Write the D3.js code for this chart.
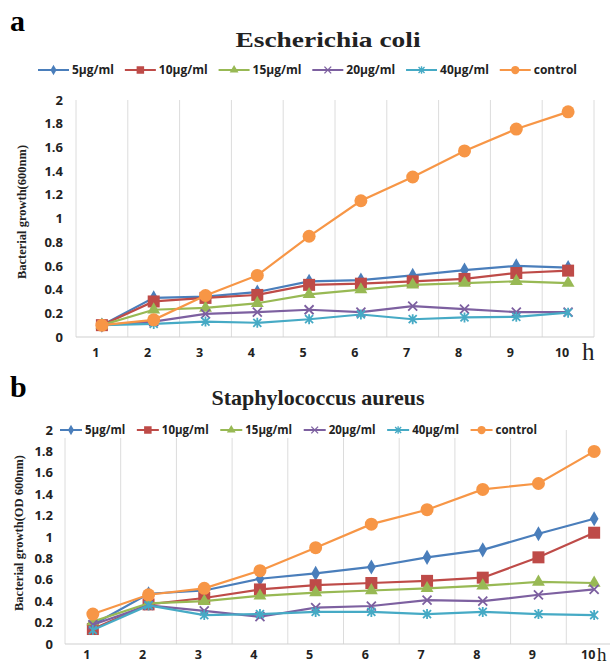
<!DOCTYPE html>
<html>
<head>
<meta charset="utf-8">
<script src="https://cdn.jsdelivr.net/npm/d3@7"></script>
<style>
body { margin: 0; background: #fff; }
</style>
</head>
<body>
<div id="chart"></div>
<script>
// hours on the x axis, OD readings on y
var hours = [1, 2, 3, 4, 5, 6, 7, 8, 9, 10];
var seriesNames = ["5μg/ml", "10μg/ml", "15μg/ml", "20μg/ml", "40μg/ml", "control"];
var yTicks = [0, 0.2, 0.4, 0.6, 0.8, 1, 1.2, 1.4, 1.6, 1.8, 2];

// panel a - Escherichia coli
var ecoli5   = [0.10, 0.33, 0.34, 0.38, 0.47, 0.48, 0.52, 0.565, 0.60, 0.585];
var ecoli10  = [0.10, 0.30, 0.33, 0.355, 0.44, 0.45, 0.47, 0.49, 0.54, 0.56];
var ecoli15  = [0.10, 0.23, 0.245, 0.285, 0.36, 0.40, 0.44, 0.455, 0.47, 0.455];
var ecoli20  = [0.10, 0.13, 0.195, 0.21, 0.23, 0.21, 0.26, 0.235, 0.21, 0.21];
var ecoli40  = [0.10, 0.11, 0.13, 0.12, 0.15, 0.19, 0.15, 0.165, 0.17, 0.205];
var ecoliCtl = [0.10, 0.145, 0.35, 0.52, 0.85, 1.15, 1.35, 1.57, 1.755, 1.90];

// panel b - Staphylococcus aureus
var saureus5   = [0.18, 0.47, 0.50, 0.61, 0.66, 0.72, 0.81, 0.88, 1.03, 1.17];
var saureus10  = [0.14, 0.37, 0.43, 0.51, 0.55, 0.57, 0.59, 0.62, 0.81, 1.04];
var saureus15  = [0.21, 0.38, 0.40, 0.45, 0.48, 0.50, 0.52, 0.545, 0.58, 0.57];
var saureus20  = [0.18, 0.36, 0.31, 0.255, 0.34, 0.355, 0.41, 0.40, 0.46, 0.51];
var saureus40  = [0.13, 0.36, 0.27, 0.28, 0.30, 0.30, 0.28, 0.30, 0.28, 0.27];
var saureusCtl = [0.28, 0.46, 0.52, 0.685, 0.90, 1.12, 1.255, 1.445, 1.50, 1.80];

var colors = ["#4a7ebb", "#be4b48", "#98b954", "#7d60a0", "#46aac5", "#f79646"];
var markers = ["diamond", "square", "triangle", "cross", "star", "circle"];

var svg = d3.select("#chart").append("svg")
    .attr("width", 610)
    .attr("height", 664)
    .style("display", "block");

svg.append("rect").attr("width", 610).attr("height", 664).attr("fill", "#fff");

function drawMarker(g, type, color, big) {
    var s = big ? 1.2 : 1;
    if (type == "diamond") {
        g.append("path").attr("d", d3.symbol(d3.symbolDiamond, 55 * s)()).attr("fill", color);
    } else if (type == "square") {
        g.append("rect").attr("x", -5 * s).attr("y", -5 * s).attr("width", 10 * s).attr("height", 10 * s).attr("fill", color);
    } else if (type == "triangle") {
        g.append("path").attr("d", d3.symbol(d3.symbolTriangle, 60 * s)()).attr("fill", color);
    } else if (type == "cross") {
        g.append("path").attr("d", "M-4.5,-4.5L4.5,4.5M-4.5,4.5L4.5,-4.5")
            .attr("stroke", color).attr("stroke-width", 1.8).attr("fill", "none");
    } else if (type == "star") {
        g.append("path").attr("d", "M-4,-4L4,4M-4,4L4,-4M0,-5L0,5")
            .attr("stroke", color).attr("stroke-width", 1.8).attr("fill", "none");
    } else {
        g.append("circle").attr("r", big ? 6.5 : 5.5).attr("fill", color);
    }
}

function drawPanel(p) {
    var x = d3.scaleBand().domain(hours).range([p.left, p.right]);
    var y = d3.scaleLinear().domain([0, 2]).range([p.bottom, p.top]);
    var g = svg.append("g");

    // vertical gridlines at band edges
    var edges = hours.map(function(h) { return x(h); }).concat([p.right]);
    g.selectAll(".grid").data(edges).enter().append("line")
        .attr("x1", function(d) { return d; })
        .attr("x2", function(d) { return d; })
        .attr("y1", p.bottom)
        .attr("y2", p.top)
        .attr("stroke", "#dcdcdc")
        .attr("stroke-width", 1);

    g.append("line")
        .attr("x1", p.left).attr("x2", p.right)
        .attr("y1", p.bottom).attr("y2", p.bottom)
        .attr("stroke", "#d0d0d0").attr("stroke-width", 1.2);

    // y axis labels
    var yAxis = d3.axisLeft(y).tickValues(yTicks).tickSize(0).tickPadding(0)
        .tickFormat(function(d) { return d3.format("~g")(d); });
    var ya = g.append("g").attr("transform", "translate(" + p.yLabelRight + ",0)").call(yAxis);
    ya.select(".domain").remove();
    ya.selectAll("text")
        .attr("font-family", "'Open Sans', sans-serif")
        .attr("font-weight", "bold")
        .attr("font-size", 13)
        .attr("fill", "#222");

    // x axis labels
    var xAxis = d3.axisBottom(x).tickSize(0).tickPadding(0);
    var xa = g.append("g").attr("transform", "translate(-6," + p.xLabelY + ")").call(xAxis);
    xa.select(".domain").remove();
    xa.selectAll("text")
        .attr("dy", 0)
        .attr("font-family", "'Open Sans', sans-serif")
        .attr("font-weight", "bold")
        .attr("font-size", 12.5)
        .attr("fill", "#222");

    // lines + markers
    var line = d3.line()
        .x(function(d, i) { return x(hours[i]) + x.bandwidth() / 2; })
        .y(function(d) { return y(d); });

    p.series.forEach(function(vals, k) {
        g.append("path")
            .datum(vals)
            .attr("d", line)
            .attr("fill", "none")
            .attr("stroke", colors[k])
            .attr("stroke-width", 2.2);
        vals.forEach(function(v, i) {
            var m = g.append("g").attr("transform",
                "translate(" + (x(hours[i]) + x.bandwidth() / 2) + "," + y(v) + ")");
            drawMarker(m, markers[k], colors[k], true);
        });
    });

    // axis title
    svg.append("text")
        .attr("transform", "translate(" + p.axisTitleX + "," + p.axisTitleY + ") rotate(-90)")
        .attr("text-anchor", "middle")
        .attr("font-family", "'Liberation Serif', serif")
        .attr("font-weight", "bold")
        .attr("font-size", 12.5)
        .attr("fill", "#222")
        .text(p.axisTitle);

    // panel letter + title
    svg.append("text")
        .attr("x", p.letterX).attr("y", p.letterY)
        .attr("font-family", "'Liberation Serif', serif")
        .attr("font-weight", "bold")
        .attr("font-size", 30)
        .text(p.letter);

    var tt = svg.append("text")
        .attr("x", p.titleX).attr("y", p.titleY)
        .attr("text-anchor", "middle")
        .attr("font-family", "'Liberation Serif', serif")
        .attr("font-weight", "bold")
        .attr("font-size", 22)
        .attr("fill", "#222")
        .text(p.title);
    if (p.titleLength) {
        tt.attr("textLength", p.titleLength).attr("lengthAdjust", "spacingAndGlyphs");
    }

    svg.append("text")
        .attr("x", p.hX).attr("y", p.hY)
        .attr("font-family", "'Liberation Serif', serif")
        .attr("font-size", p.hSize)
        .attr("fill", "#222")
        .text("h");

    // legend
    var lg = svg.append("g");
    lg.append("rect")
        .attr("x", p.legendX0 - 2).attr("y", p.legendY - 8)
        .attr("width", p.legendX1 - p.legendX0 + 4).attr("height", 16)
        .attr("fill", "#fff");
    var items = seriesNames.map(function(name, k) {
        var it = lg.append("g");
        it.append("line")
            .attr("x1", 0).attr("x2", p.legendLine)
            .attr("stroke", colors[k]).attr("stroke-width", 2);
        var mk = it.append("g").attr("transform", "translate(" + (p.legendLine / 2) + ",0) scale(0.75)");
        drawMarker(mk, markers[k], colors[k], false);
        var t = it.append("text")
            .attr("x", p.legendLine + 3)
            .attr("dy", "0.35em")
            .attr("font-family", "'Open Sans', sans-serif")
            .attr("font-weight", "bold")
            .attr("font-size", p.legendFont)
            .attr("fill", "#222")
            .text(name);
        return { g: it, w: p.legendLine + 3 + t.node().getComputedTextLength() };
    });
    var total = d3.sum(items, function(d) { return d.w; });
    var gap = (p.legendX1 - p.legendX0 - total) / (items.length - 1);
    var cx = p.legendX0;
    items.forEach(function(d) {
        d.g.attr("transform", "translate(" + cx + "," + p.legendY + ")");
        cx += d.w + gap;
    });
}

drawPanel({
    left: 76, right: 594, top: 100, bottom: 337,
    yLabelRight: 63, xLabelY: 357,
    series: [ecoli5, ecoli10, ecoli15, ecoli20, ecoli40, ecoliCtl],
    axisTitle: "Bacterial growth(600nm)", axisTitleX: 26, axisTitleY: 212,
    letter: "a", letterX: 10, letterY: 31,
    title: "Escherichia coli", titleX: 328, titleY: 47, titleLength: 185,
    hX: 582, hY: 360, hSize: 25,
    legendX0: 38, legendX1: 577, legendY: 70, legendLine: 31, legendFont: 12
});

drawPanel({
    left: 65, right: 622, top: 430, bottom: 644,
    yLabelRight: 53, xLabelY: 659,
    series: [saureus5, saureus10, saureus15, saureus20, saureus40, saureusCtl],
    axisTitle: "Bacterial growth(OD 600nm)", axisTitleX: 23, axisTitleY: 533,
    letter: "b", letterX: 10, letterY: 397,
    title: "Staphylococcus aureus", titleX: 318, titleY: 405,
    hX: 597, hY: 661, hSize: 19,
    legendX0: 60, legendX1: 537, legendY: 430, legendLine: 22, legendFont: 11.5
});
</script>
</body>
</html>
